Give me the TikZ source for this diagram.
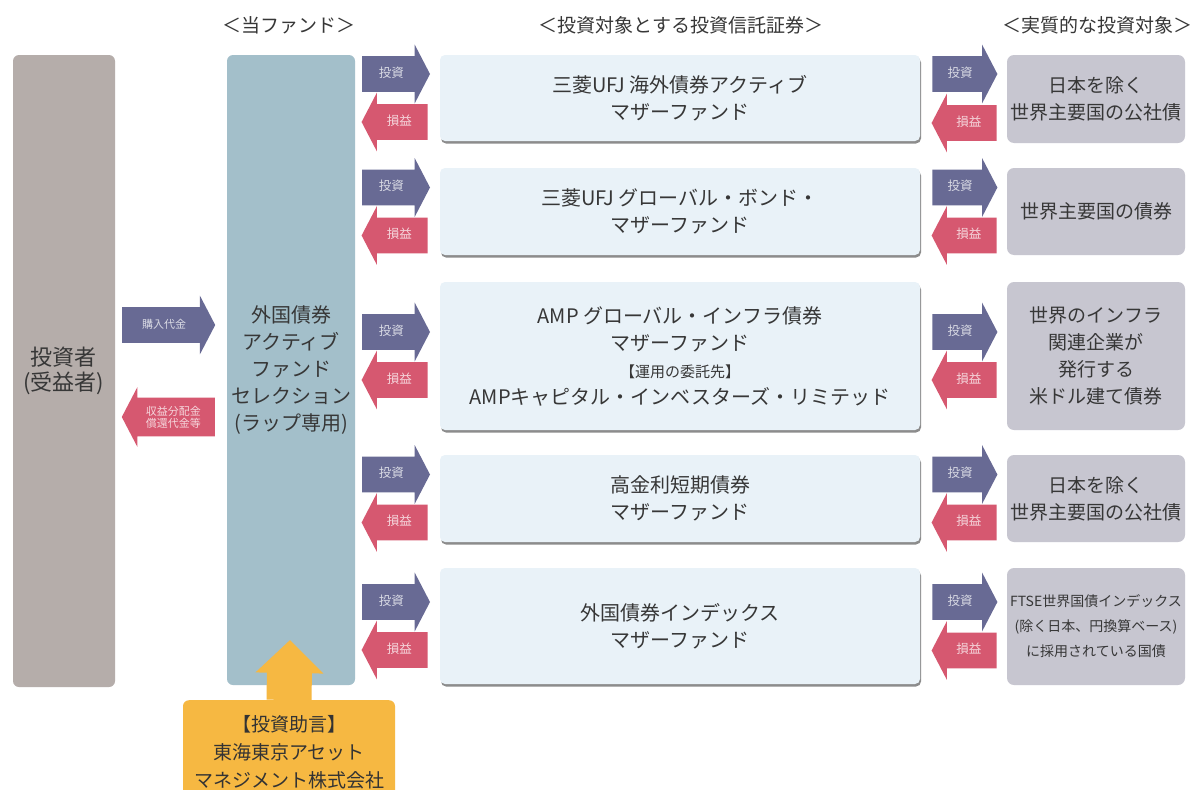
\documentclass[tikz,border=0pt]{standalone}
\usepackage{fontspec}
\setmainfont{Noto Sans CJK JP}
\usetikzlibrary{shapes.arrows,shadows,arrows.meta,calc}

\definecolor{investorgray}{RGB}{181,173,170}
\definecolor{fundblue}{RGB}{163,191,202}
\definecolor{motherfill}{RGB}{233,242,248}
\definecolor{targetfill}{RGB}{199,198,208}
\definecolor{investblue}{RGB}{104,106,148}
\definecolor{returnred}{RGB}{214,88,112}
\definecolor{advisororange}{RGB}{246,184,66}
\definecolor{textgray}{RGB}{55,55,55}

\tikzset{
  heading/.style={text=textgray, font=\fontsize{19}{23}\selectfont},
  tallbox/.style={rounded corners=6pt, inner sep=0pt, align=center, text=textgray},
  motherbox/.style={fill=motherfill, rounded corners=5pt, minimum width=480pt, inner sep=0pt,
    align=center, text=textgray, font=\fontsize{20}{27}\selectfont,
    drop shadow={shadow xshift=1pt, shadow yshift=-2.5pt, fill=black!45, opacity=1}},
  targetbox/.style={fill=targetfill, rounded corners=7pt, minimum width=178pt, inner sep=0pt,
    align=center, text=textgray, font=\fontsize{19}{27}\selectfont},
  flowarrow/.style={single arrow, single arrow head extend=11.5pt, single arrow tip angle=125,
    inner xsep=4pt, inner ysep=11.5pt, text height=9.5pt, text depth=3pt,
    font=\fontsize{12.5}{14}\selectfont},
  invest/.style={flowarrow, fill=investblue, text=investblue!25!white},
  payback/.style={flowarrow, fill=returnred, text=returnred!25!white, shape border rotate=180},
  advflow/.style={draw=advisororange, line width=45pt, -{Triangle[width=66pt,length=33pt]}}
}

\begin{document}
\begin{tikzpicture}[x=1pt,y=1pt]
  % page and margins
  \fill[white] (0,0) rectangle (1195,-790);
  \useasboundingbox (0,0) rectangle (1195,-790);

  % column headings
  \node[heading] (headfund) at (289,-25) {＜当ファンド＞};
  \node[heading] (headmother) at (681,-25) {＜投資対象とする投資信託証券＞};
  \node[heading] (headtarget) at (1097,-25) {＜実質的な投資対象＞};

  % investor and this fund
  \node[tallbox, fill=investorgray, minimum width=102pt, minimum height=632pt,
        font=\fontsize{22}{25}\selectfont] (investor) at (64,-371) {投資者\\(受益者)};
  \node[tallbox, fill=fundblue, minimum width=128pt, minimum height=630pt,
        font=\fontsize{20}{27}\selectfont] (fund) at (291,-370)
        {外国債券\\アクティブ\\ファンド\\セレクション\\(ラップ専用)};

  % money between investor and fund
  \node[invest, anchor=tail, minimum height=93pt, font=\fontsize{11}{13}\selectfont] (buy) at (122,-325) {購入代金};
  \node[payback, anchor=tail, minimum height=93pt, font=\fontsize{11}{12}\selectfont,
        text height={}, text depth={}, inner ysep=8pt, single arrow head extend=10.5pt, align=center]
        (dist) at (215,-417) {収益分配金\\償還代金等};

  % mother funds
  \node[motherbox, minimum height=86pt] (mother1) at (680,-98) {三菱UFJ 海外債券アクティブ\\マザーファンド};
  \node[motherbox, minimum height=87pt] (mother2) at (680,-211.5) {三菱UFJ グローバル・ボンド・\\マザーファンド};
  \node[motherbox, minimum height=148pt] (mother3) at (680,-356)
        {AMP グローバル・インフラ債券\\マザーファンド\\{\fontsize{15}{27}\selectfont【運用の委託先】}\\AMPキャピタル・インベスターズ・リミテッド};
  \node[motherbox, minimum height=87pt] (mother4) at (680,-498.5) {高金利短期債券\\マザーファンド};
  \node[motherbox, minimum height=116pt] (mother5) at (680,-626) {外国債券インデックス\\マザーファンド};

  % real targets
  \node[targetbox, minimum height=88pt] (target1) at (1096,-99) {日本を除く\\世界主要国の公社債};
  \node[targetbox, minimum height=87pt] (target2) at (1096,-211.5) {世界主要国の債券};
  \node[targetbox, minimum height=148pt] (target3) at (1096,-356) {世界のインフラ\\関連企業が\\発行する\\米ドル建て債券};
  \node[targetbox, minimum height=87pt] (target4) at (1096,-498.5) {日本を除く\\世界主要国の公社債};
  \node[targetbox, minimum height=117pt, font=\fontsize{14}{25}\selectfont] (target5) at (1096,-626.5)
        {FTSE世界国債インデックス\\(除く日本、円換算ベース)\\に採用されている国債};

  % invest / return arrows for each row
  \foreach \i in {1,...,5}{
    \node[invest, anchor=tail, minimum height=68pt] (inv\i) at ($(mother\i.west)+(-78,24)$) {投資};
    \node[payback, anchor=tail, minimum height=66pt] (ret\i) at ($(mother\i.west)+(-12,-24)$) {損益};
    \node[invest, anchor=tail, minimum height=65pt] (tinv\i) at ($(mother\i.east)+(12,24)$) {投資};
    \node[payback, anchor=tail, minimum height=65pt] (tret\i) at ($(target\i.west)+(-10,-24)$) {損益};
  }

  % investment adviser
  \node[tallbox, fill=advisororange, minimum width=212pt, minimum height=105pt, anchor=north,
        font=\fontsize{19}{28}\selectfont, text=black!80] (adv) at (289,-700)
        {【投資助言】\\東海東京アセット\\マネジメント株式会社};
  \coordinate (advtip) at (290,-640);
  \draw[advflow] (adv.north) -- (advtip);
\end{tikzpicture}
\end{document}
